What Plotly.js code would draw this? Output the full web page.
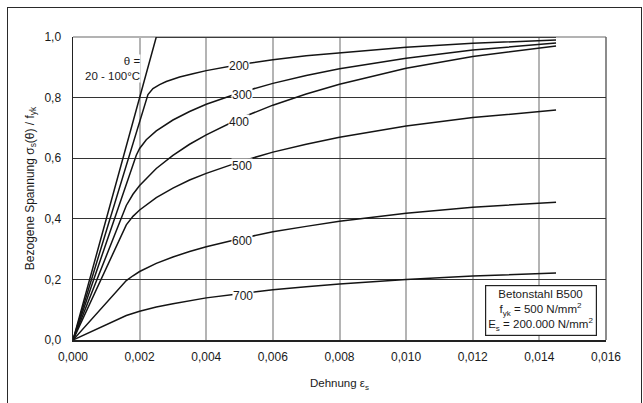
<!DOCTYPE html>
<html>
<head>
<meta charset="utf-8">
<script src="https://cdn.plot.ly/plotly-3.0.1.min.js"></script>
<style>
  html, body { margin: 0; padding: 0; background: #fff; overflow: hidden; }
  #chart { position: absolute; left: 0; top: 0; width: 643px; height: 403px; }
  #frame { position: absolute; left: 7px; top: 7px; width: 633px; height: 420px;
           border: 1.5px solid #2a2a2a; pointer-events: none; }
</style>
</head>
<body>
<div id="chart"></div>
<div id="frame"></div>
<script>
// Strain values (Dehnung) and normalised stress (sigma_s(theta)/f_yk)
const eps20 = [0, 0.0025, 0.0145];
const sig20 = [0, 1.0, 1.0];

const eps200 = [0, 0.00225, 0.0024, 0.0026, 0.0028, 0.0032, 0.0036, 0.004, 0.005, 0.006, 0.007, 0.008, 0.010, 0.012, 0.0145];
const sig200 = [0, 0.810, 0.830, 0.843, 0.853, 0.868, 0.879, 0.889, 0.909, 0.925, 0.938, 0.948, 0.966, 0.979, 0.990];

const eps300 = [0, 0.0019, 0.002, 0.0022, 0.0025, 0.003, 0.0035, 0.004, 0.005, 0.006, 0.007, 0.008, 0.010, 0.012, 0.0145];
const sig300 = [0, 0.610, 0.632, 0.661, 0.690, 0.726, 0.754, 0.778, 0.816, 0.847, 0.873, 0.895, 0.930, 0.957, 0.980];

const eps400 = [0, 0.0015, 0.0016, 0.0018, 0.002, 0.0025, 0.003, 0.0035, 0.004, 0.005, 0.006, 0.007, 0.008, 0.010, 0.012, 0.0145];
const sig400 = [0, 0.420, 0.444, 0.481, 0.510, 0.566, 0.609, 0.646, 0.677, 0.731, 0.775, 0.812, 0.844, 0.897, 0.936, 0.970];

const eps500 = [0, 0.0015, 0.0016, 0.0018, 0.002, 0.0025, 0.003, 0.0035, 0.004, 0.005, 0.006, 0.007, 0.008, 0.010, 0.012, 0.0145];
const sig500 = [0, 0.360, 0.380, 0.408, 0.429, 0.470, 0.501, 0.528, 0.550, 0.588, 0.620, 0.646, 0.669, 0.706, 0.734, 0.759];

const eps600 = [0, 0.00145, 0.0016, 0.0018, 0.002, 0.0025, 0.003, 0.0035, 0.004, 0.005, 0.006, 0.007, 0.008, 0.010, 0.012, 0.0145];
const sig600 = [0, 0.180, 0.196, 0.212, 0.226, 0.253, 0.274, 0.292, 0.308, 0.334, 0.357, 0.375, 0.392, 0.418, 0.438, 0.455];

const eps700 = [0, 0.00135, 0.0016, 0.002, 0.0025, 0.003, 0.0035, 0.004, 0.005, 0.006, 0.007, 0.008, 0.010, 0.012, 0.0145];
const sig700 = [0, 0.070, 0.081, 0.095, 0.109, 0.120, 0.130, 0.139, 0.153, 0.166, 0.176, 0.185, 0.200, 0.211, 0.221];

// Curve labels (temperature in °C) and their positions on the curves
const labelTexts = ["200", "300", "400", "500", "600", "700"];
const labelX = [0.00498, 0.00506, 0.00498, 0.00506, 0.00508, 0.0051];
const labelY = [0.904, 0.808, 0.720, 0.575, 0.326, 0.145];

const xTicks = [0, 0.002, 0.004, 0.006, 0.008, 0.010, 0.012, 0.014, 0.016];
const yTicks = [0, 0.2, 0.4, 0.6, 0.8, 1.0];

const FONT = "Liberation Sans, Arial, sans-serif";
const lineStyle = { color: "#141414", width: 1.5 };

const series = [
  [eps20, sig20], [eps200, sig200], [eps300, sig300], [eps400, sig400],
  [eps500, sig500], [eps600, sig600], [eps700, sig700]
];
const traces = series.map(([x, y]) => ({
  x: x, y: y, type: "scatter", mode: "lines", line: lineStyle,
  hoverinfo: "skip", showlegend: false
}));

const annotations = labelTexts.map((t, i) => ({
  x: labelX[i], y: labelY[i], xref: "x", yref: "y", text: t, showarrow: false,
  font: { family: FONT, size: 12, color: "#1a1a1a" }, bgcolor: "#ffffff", borderpad: 0
}));
annotations.push({
  x: 0.00205, y: 0.895, xref: "x", yref: "y", xanchor: "right", yanchor: "middle",
  text: "θ =<br>20 - 100°C", align: "right", showarrow: false,
  font: { family: FONT, size: 11.5, color: "#1a1a1a" }, bgcolor: "#ffffff", borderpad: 0
});
annotations.push({
  x: 0.01404, y: 0.096, xref: "x", yref: "y", xanchor: "center", yanchor: "middle",
  text: "Betonstahl B500<br>f<sub>yk</sub> = 500 N/mm<sup>2</sup><br>E<sub>s</sub> = 200.000 N/mm<sup>2</sup>",
  align: "center", showarrow: false,
  font: { family: FONT, size: 11.5, color: "#1a1a1a" }, bgcolor: "#ffffff",
  bordercolor: "#222", borderwidth: 1.2, borderpad: 2
});

const layout = {
  width: 643, height: 403,
  margin: { l: 73, r: 37, t: 37, b: 63, pad: 0 },
  paper_bgcolor: "#ffffff", plot_bgcolor: "#ffffff",
  separators: ",.",
  showlegend: false,
  font: { family: FONT, size: 12, color: "#1a1a1a" },
  xaxis: {
    range: [0, 0.016], tickvals: xTicks, tickformat: ".3f",
    showgrid: true, gridcolor: "#b4b4b4", gridwidth: 2,
    zeroline: false, showline: true, linecolor: "#222", linewidth: 1.5,
    ticks: "outside", ticklen: 5, tickcolor: "rgba(0,0,0,0)",
    tickfont: { family: FONT, size: 12, color: "#1a1a1a" },
    title: { text: "Dehnung ε<sub>s</sub>", font: { family: FONT, size: 11.5, color: "#1a1a1a" }, standoff: 16 },
    fixedrange: true
  },
  yaxis: {
    range: [0, 1], tickvals: yTicks, tickformat: ".1f",
    showgrid: true, gridcolor: "#333333", gridwidth: 1,
    zeroline: false, showline: true, linecolor: "#222", linewidth: 1.5,
    ticks: "outside", ticklen: 8, tickcolor: "rgba(0,0,0,0)",
    tickfont: { family: FONT, size: 12, color: "#1a1a1a" },
    title: { text: "Bezogene Spannung σ<sub>s</sub>(θ) / f<sub>yk</sub>", font: { family: FONT, size: 12, color: "#1a1a1a" }, standoff: 7 },
    fixedrange: true
  },
  shapes: [
    { type: "line", xref: "paper", yref: "paper", x0: 0, x1: 1, y0: 1, y1: 1,
      line: { color: "#9a9a9a", width: 1.5 }, layer: "below" },
    { type: "line", xref: "paper", yref: "paper", x0: 1, x1: 1, y0: 0, y1: 1,
      line: { color: "#666666", width: 1.5 }, layer: "below" }
  ],
  annotations: annotations
};

Plotly.newPlot("chart", traces, layout, { displayModeBar: false, staticPlot: true });
</script>
</body>
</html>
